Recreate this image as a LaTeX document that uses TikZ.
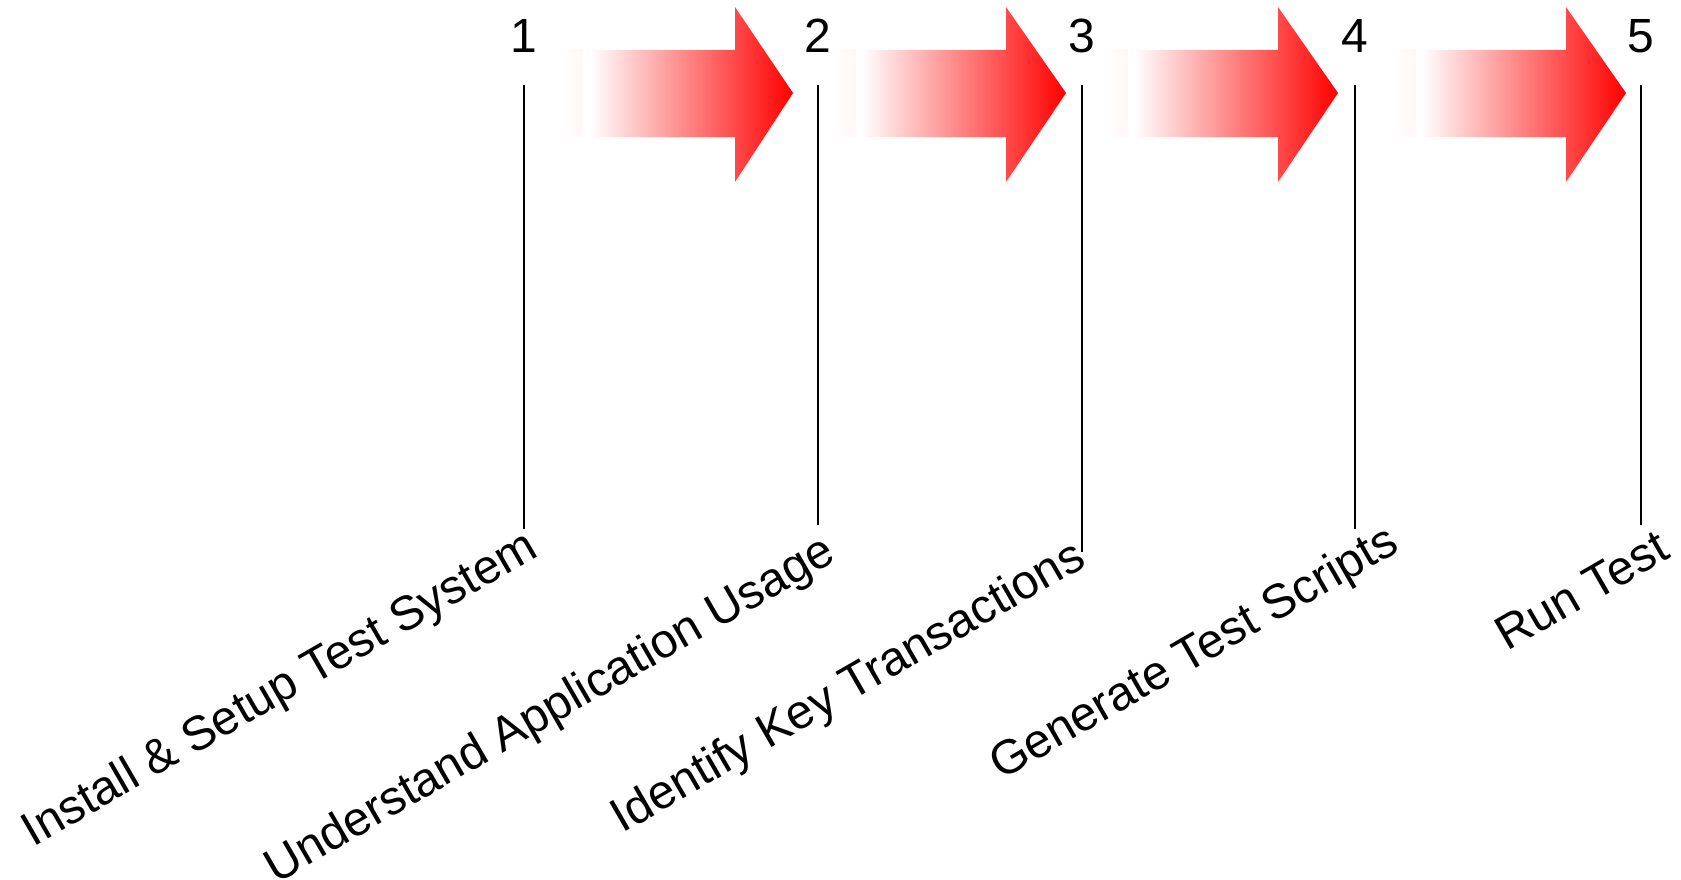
\documentclass[tikz,border=0pt]{standalone}
\usepackage{fontspec}
\setmainfont{Liberation Sans}
\begin{document}
\begin{tikzpicture}[x=1pt,y=-1pt]
\tikzset{
  stepnum/.style={font=\fontsize{48}{58}\selectfont, anchor=base, inner sep=0pt},
  steplabel/.style={font=\fontsize{48}{58}\selectfont, anchor=base east, rotate=30, inner sep=0pt},
  tick/.style={line width=1.5pt, black},
  fadestrip/.style={left color=white, right color=red!3, shading angle=90},
  fatarrow/.style={left color=red!1, right color=red, shading angle=90},
}
\useasboundingbox (0,0) rectangle (1681,880);

% arrows (left strip, body with head)
\newcommand{\myarrow}[5]{%
  \shade[fadestrip] (#1,50) rectangle (#2,137);
  \shade[fatarrow] (#3,50) -- (#4,50) -- (#4,7) -- (#5,93) -- (#4,182) -- (#4,137) -- (#3,137) -- cycle;
}
\myarrow{560}{583}{592}{735}{793}
\myarrow{832}{856}{863}{1006}{1066}
\myarrow{1103}{1128}{1136}{1278}{1338}
\myarrow{1392}{1416}{1423}{1566}{1626}

% numbers
\node[stepnum] (n1) at (524,53) {1};
\node[stepnum] (n2) at (818,53) {2};
\node[stepnum] (n3) at (1082,53) {3};
\node[stepnum] (n4) at (1355,53) {4};
\node[stepnum] (n5) at (1641,53) {5};

% tick lines
\coordinate (t1) at (524,85);  \coordinate (b1) at (524,529);
\coordinate (t2) at (818,85);  \coordinate (b2) at (818,525);
\coordinate (t3) at (1082,85); \coordinate (b3) at (1082,552);
\coordinate (t4) at (1355,85); \coordinate (b4) at (1355,529);
\coordinate (t5) at (1641,85); \coordinate (b5) at (1641,525);
\foreach \i in {1,...,5} { \draw[tick] (t\i) -- (b\i); }

% labels
\node[steplabel] (l1) at (540,555) {Install \& Setup Test System};
\node[steplabel] (l2) at (838,560) {Understand Application Usage};
\node[steplabel] (l3) at (1088,565) {Identify Key Transactions};
\node[steplabel] (l4) at (1401,550) {Generate Test Scripts};
\node[steplabel] (l5) at (1672,557) {Run Test};
\end{tikzpicture}
\end{document}
